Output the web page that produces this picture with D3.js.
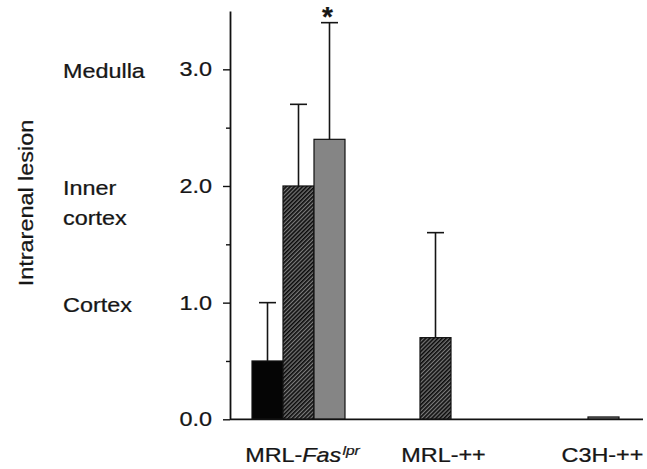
<!DOCTYPE html>
<html>
<head>
<meta charset="utf-8">
<script src="https://cdn.jsdelivr.net/npm/d3@7"></script>
<style>
  html, body { margin: 0; padding: 0; background: #fff; }
  svg { display: block; }
  text { font-family: "Liberation Sans", Arial, Helvetica, sans-serif; fill: #161616; stroke: #161616; stroke-width: 0.25px; }
</style>
</head>
<body>
<div id="chart"></div>
<script>
// ---------------- data ----------------
const groups = ["MRL-Fas lpr", "MRL-++", "C3H-++"];
const seriesNames = ["Series A", "Series B", "Series C"];
const valuesA = [0.5, 0, 0];
const valuesB = [2.0, 0.7, 0];
const valuesC = [2.4, 0, 0.02];
const errorsA = [0.5, 0, 0];
const errorsB = [0.7, 0.9, 0];
const errorsC = [1.0, 0, 0];
const significanceC = ["*", "", ""];
const yTicks = [0, 1, 2, 3];
const yMinorTicks = [0.5, 1.5, 2.5];
const levelLabels = [
  { v: 3, lines: ["Medulla"] },
  { v: 2, lines: ["Inner", "cortex"] },
  { v: 1, lines: ["Cortex"] }
];
const yTitle = "Intrarenal lesion";

// ---------------- layout ----------------
const W = 647, H = 469;
const SX = 1.2;          // horizontal stretch of the original lettering
const FS = 19.5;
const labelShift = [4, 8, 30];

const svg = d3.select("#chart").append("svg").attr("width", W).attr("height", H);

const defs = svg.append("defs");
const pat = defs.append("pattern")
  .attr("id", "hatch").attr("patternUnits", "userSpaceOnUse")
  .attr("width", 2.9).attr("height", 2.9)
  .attr("patternTransform", "rotate(45)");
pat.append("rect").attr("width", 2.9).attr("height", 2.9).attr("fill", "#7a7a7a");
pat.append("line").attr("x1", 0.8).attr("y1", 0).attr("x2", 0.8).attr("y2", 2.9)
  .attr("stroke", "#0c0c0c").attr("stroke-width", 1.7);

const y = d3.scaleLinear().domain([0, 3.5]).range([419.3, 11]);
const x0 = d3.scaleBand().domain(groups).range([230, 641]).padding(0);
const x1 = d3.scaleBand().domain(seriesNames).range([0, x0.bandwidth()])
  .paddingInner(0).paddingOuter(0.71);

const fills = { "Series A": "#050505", "Series B": "url(#hatch)", "Series C": "#858585" };

const series = [
  { name: seriesNames[0], vals: valuesA, errs: errorsA, sig: ["", "", ""] },
  { name: seriesNames[1], vals: valuesB, errs: errorsB, sig: ["", "", ""] },
  { name: seriesNames[2], vals: valuesC, errs: errorsC, sig: significanceC }
];
const bars = [];
series.forEach(s => groups.forEach((g, i) => {
  bars.push({ group: g, series: s.name, value: s.vals[i], err: s.errs[i], sig: s.sig[i] });
}));

function stretchedText(parent, x, yy, str, anchor, extra) {
  const g = parent.append("g").attr("transform", `translate(${x},${yy})`);
  const t = g.append("text").attr("transform", `scale(${SX},1)`)
    .attr("text-anchor", anchor).attr("font-size", FS);
  if (str !== null) t.text(str);
  if (extra) extra(t);
  return t;
}

// bars
const barG = svg.append("g");
barG.selectAll("rect").data(bars.filter(d => d.value > 0)).join("rect")
  .attr("x", d => x0(d.group) + x1(d.series))
  .attr("width", x1.bandwidth())
  .attr("y", d => y(d.value))
  .attr("height", d => y(0) - y(d.value))
  .attr("fill", d => fills[d.series])
  .attr("stroke", "#111").attr("stroke-width", 1.2);

// error bars
const eb = bars.filter(d => d.err > 0);
const errG = svg.append("g").attr("stroke", "#151515").attr("stroke-width", 1.6);
errG.selectAll("line.v").data(eb).join("line").attr("class", "v")
  .attr("x1", d => x0(d.group) + x1(d.series) + x1.bandwidth() / 2)
  .attr("x2", d => x0(d.group) + x1(d.series) + x1.bandwidth() / 2)
  .attr("y1", d => y(d.value)).attr("y2", d => y(d.value + d.err));
errG.selectAll("line.c").data(eb).join("line").attr("class", "c")
  .attr("x1", d => x0(d.group) + x1(d.series) + x1.bandwidth() / 2 - 8.5)
  .attr("x2", d => x0(d.group) + x1(d.series) + x1.bandwidth() / 2 + 8.5)
  .attr("y1", d => y(d.value + d.err)).attr("y2", d => y(d.value + d.err));

// significance
bars.filter(d => d.sig).forEach(d => {
  svg.append("text")
    .attr("x", x0(d.group) + x1(d.series) + x1.bandwidth() / 2 - 2)
    .attr("y", y(d.value + d.err) + 3.5)
    .attr("text-anchor", "middle").attr("font-size", 28).attr("font-weight", "bold")
    .text(d.sig);
});

// y axis
const yAxis = svg.append("g").attr("transform", "translate(230,0)")
  .call(d3.axisLeft(y).tickValues(yTicks).tickFormat(d3.format(".1f"))
    .tickSize(7).tickSizeOuter(0).tickPadding(11));
yAxis.select(".domain").attr("stroke", "#111").attr("stroke-width", 1.8);
yAxis.selectAll(".tick line").attr("stroke", "#111").attr("stroke-width", 1.4);
yAxis.selectAll(".tick text").remove();
yTicks.forEach(v => stretchedText(svg, 212, y(v) + 7, d3.format(".1f")(v), "end"));

const yMinor = svg.append("g").attr("transform", "translate(230,0)")
  .call(d3.axisLeft(y).tickValues(yMinorTicks).tickFormat("").tickSize(4).tickSizeOuter(0));
yMinor.select(".domain").remove();
yMinor.selectAll(".tick line").attr("stroke", "#111").attr("stroke-width", 1.4);

// x axis line
const xAxis = svg.append("g").attr("transform", `translate(0,${y(0)})`)
  .call(d3.axisBottom(x0).tickSize(0).tickFormat(""));
xAxis.select(".domain").attr("stroke", "#111").attr("stroke-width", 1.8)
  .attr("d", `M${x0.range()[0]},0H${x0.range()[1] + 2}`);

// x labels
groups.forEach((g, i) => {
  const cx = x0(g) + x0.bandwidth() / 2 + labelShift[i];
  if (g === "MRL-Fas lpr") {
    stretchedText(svg, cx, 461.7, null, "middle", t => {
      t.append("tspan").text("MRL-");
      t.append("tspan").attr("font-style", "italic").text("Fas");
      t.append("tspan").attr("font-style", "italic").attr("font-size", 13)
        .attr("dy", -7).attr("dx", 1).text("lpr");
    });
  } else {
    stretchedText(svg, cx, 461.7, g, "middle");
  }
});

// level labels
levelLabels.forEach(l => {
  l.lines.forEach((ln, j) => stretchedText(svg, 63, y(l.v) + 9 + j * 30, ln, "start"));
});

// y title
const tg = svg.append("g").attr("transform", "translate(33,203) rotate(-90)");
tg.append("text").attr("transform", `scale(${SX},1)`).attr("text-anchor", "middle")
  .attr("font-size", FS).text(yTitle);
</script>
</body>
</html>
